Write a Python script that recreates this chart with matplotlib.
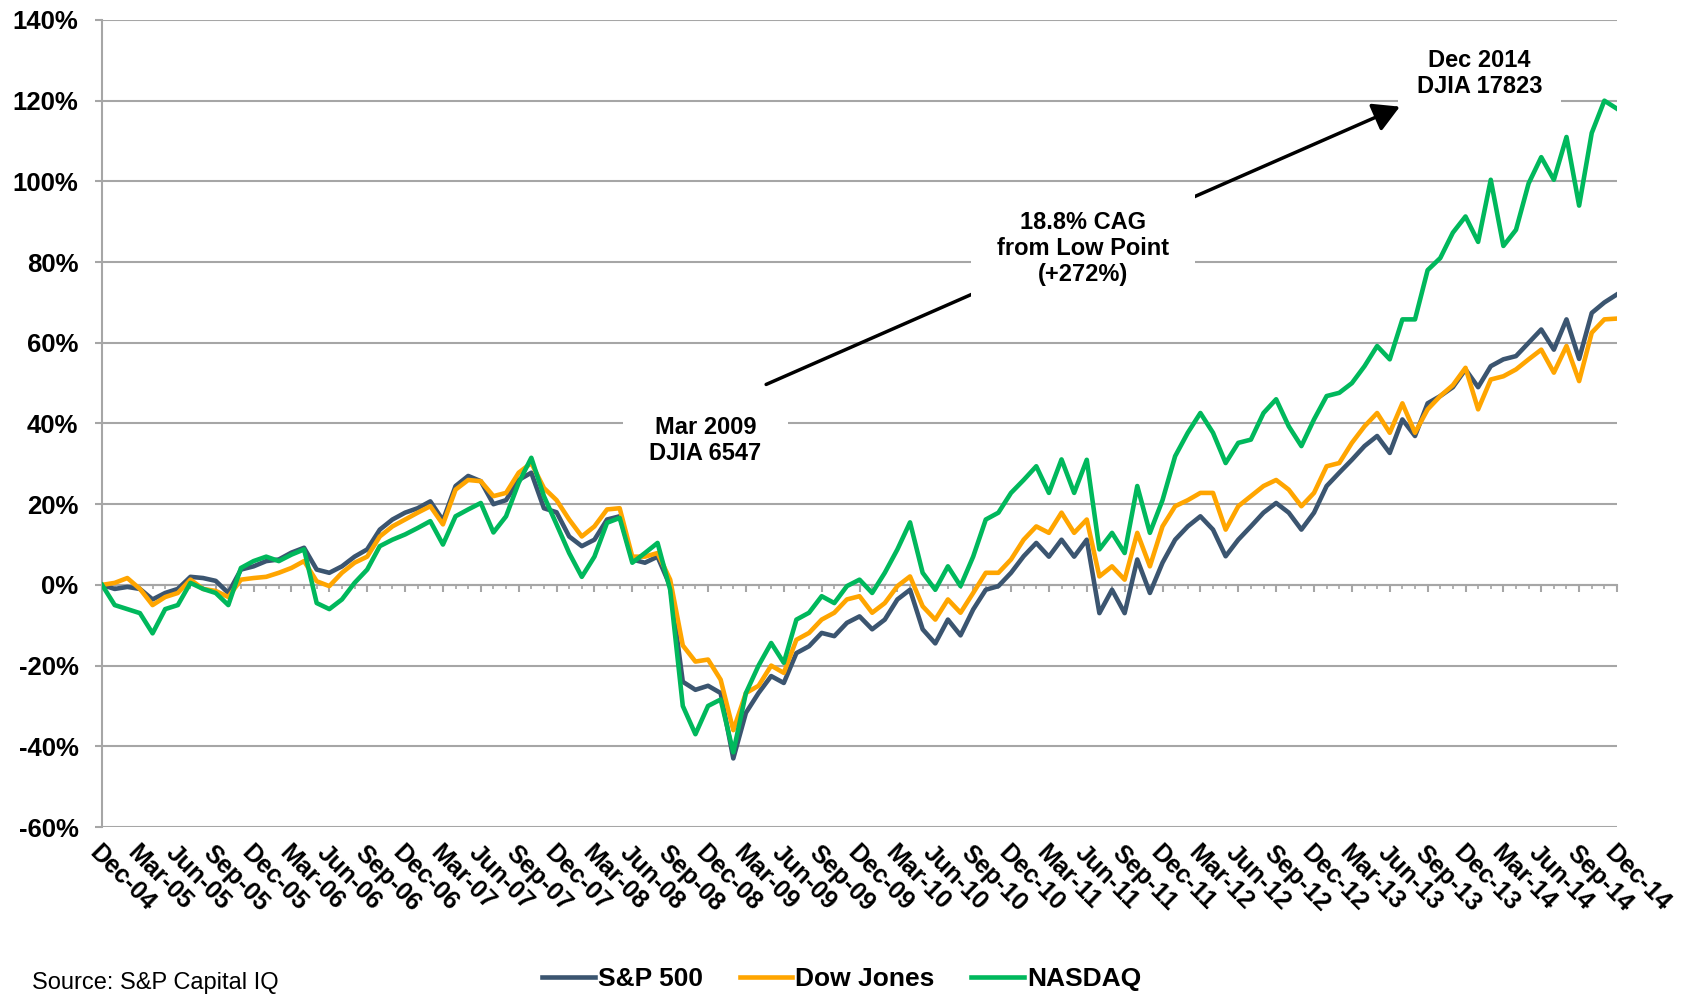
import numpy as np
import matplotlib
matplotlib.use("Agg")
import matplotlib.pyplot as plt

plt.rcParams['font.family'] = ['Liberation Sans', 'DejaVu Sans']

# months since Dec-04 (0 = Dec-04, 120 = Dec-14)
months = np.arange(121)

sp500 = [0, -1, -0.5, -1, -3.6, -2, -1, 2, 1.7, 1, -2, 3.8, 4.6, 5.9, 6.3, 8, 9.2, 3.8, 3, 4.6,
         7, 8.8, 13.7, 16.2, 17.9, 19, 20.7, 16, 24.5, 27, 25.7, 20, 21, 26, 27.8, 19, 18, 12, 9.6, 11.2,
         16.2, 17, 6.3, 5.5, 7, -0.3, -24, -26, -25, -26.8, -43, -31.7, -26.8, -22.6, -24.3, -16.9, -15.2, -11.9, -12.7, -9.4,
         -7.8, -11, -8.6, -3.6, -1.2, -11, -14.5, -8.6, -12.5, -6.1, -1.2, -0.3, 3, 7.1, 10.4, 7, 11.2, 7, 11.2, -7,
         -1.2, -7, 6.3, -2, 5.5, 11.2, 14.5, 17, 13.7, 7.1, 11.2, 14.5, 17.9, 20.3, 17.9, 13.7, 17.9, 24.5, 27.8, 31,
         34.4, 36.9, 32.7, 41, 36.9, 45, 46.8, 49, 53.4, 49, 54.2, 55.9, 56.7, 60, 63.3, 58.3, 65.8, 56, 67.4, 70,
         72]
dow = [0, 0.5, 1.7, -1, -5, -3, -2, 1.3, -1, -1.5, -3, 1.3, 1.7, 2, 3, 4.2, 5.9, 0.9, -0.3, 3,
       5.5, 7, 12, 14.5, 16.2, 17.9, 19.5, 15, 23.6, 26, 25.7, 22, 22.8, 27.8, 30.2, 24, 21, 16.2, 12, 14.5,
       18.7, 19, 7, 7, 7.9, 1.3, -15, -19, -18.5, -23.5, -36, -26.8, -25, -20, -21.8, -13.6, -11.9, -8.6, -6.9, -3.6,
       -2.8, -6.9, -4.5, -0.3, 2.1, -5.3, -8.6, -3.6, -6.9, -2, 3, 3, 6.3, 11.2, 14.5, 12.9, 17.9, 12.9, 16.2, 2.1,
       4.6, 1.3, 12.9, 4.6, 14.5, 19.5, 21, 22.8, 22.8, 13.7, 19.5, 22, 24.5, 26, 23.6, 19.5, 22.8, 29.4, 30.2, 35.2,
       39.3, 42.6, 37.7, 45, 37.7, 43.5, 46.8, 49.5, 53.8, 43.5, 50.9, 51.7, 53.4, 55.9, 58.3, 52.6, 59.2, 50.5, 62.5, 65.8,
       66]
nasdaq = [0, -5, -6, -7, -12, -6, -5, 0.5, -1, -2, -5, 4.2, 5.9, 7, 5.9, 7.5, 8.8, -4.5, -6, -3.6,
          0.5, 3.8, 9.6, 11.2, 12.5, 14.1, 15.8, 10, 17, 18.7, 20.3, 13, 17, 25.3, 31.5, 22, 15, 7.9, 2, 7,
          15.4, 16.6, 5.5, 7.9, 10.4, -1.2, -30, -37, -30, -28.4, -41.5, -26.8, -20, -14.4, -19.3, -8.6, -6.9, -2.8, -4.5, -0.3,
          1.3, -2, 3, 8.8, 15.5, 3, -1.2, 4.6, -0.3, 7, 16.2, 17.9, 22.8, 26, 29.4, 22.8, 31.1, 22.8, 31, 8.8,
          12.9, 7.9, 24.5, 12.9, 21, 31.9, 37.7, 42.6, 37.7, 30.2, 35.2, 36, 42.6, 46, 39.3, 34.4, 41, 46.8, 47.6, 50,
          54.2, 59.2, 55.9, 65.8, 65.8, 78, 81, 87.3, 91.3, 85, 100.4, 84, 88, 99.5, 106, 100.4, 111, 94, 112, 120,
          118]

tick_labels = ['Dec-04', 'Mar-05', 'Jun-05', 'Sep-05', 'Dec-05', 'Mar-06', 'Jun-06', 'Sep-06', 'Dec-06',
               'Mar-07', 'Jun-07', 'Sep-07', 'Dec-07', 'Mar-08', 'Jun-08', 'Sep-08', 'Dec-08', 'Mar-09',
               'Jun-09', 'Sep-09', 'Dec-09', 'Mar-10', 'Jun-10', 'Sep-10', 'Dec-10', 'Mar-11', 'Jun-11',
               'Sep-11', 'Dec-11', 'Mar-12', 'Jun-12', 'Sep-12', 'Dec-12', 'Mar-13', 'Jun-13', 'Sep-13',
               'Dec-13', 'Mar-14', 'Jun-14', 'Sep-14', 'Dec-14']

c_sp = '#3B5570'
c_dow = '#FFA500'
c_nas = '#00B85C'
grey = '#A6A6A6'

fig = plt.figure(figsize=(16.9, 9.94), dpi=100)
ax = fig.add_axes([0.0604, 0.168, 0.8964, 0.8119])

ax.plot(months, sp500, color=c_sp, lw=3.3, label='S&P 500', zorder=3)
ax.plot(months, dow, color=c_dow, lw=3.3, label='Dow Jones', zorder=4)
ax.plot(months, nasdaq, color=c_nas, lw=3.3, label='NASDAQ', zorder=5)

ax.set_xlim(0, 120)
ax.set_ylim(-60, 140)
ax.set_yticks(np.arange(-60, 141, 20))
ax.set_yticklabels([f"{v}%" for v in range(-60, 141, 20)], fontsize=18.5, fontweight='bold')
ax.yaxis.grid(True, color=grey, lw=1.5, zorder=0.5)
ax.set_axisbelow(True)
ax.tick_params(axis='y', length=5, width=1.5, color=grey, pad=12)

ax.set_xticks(np.arange(0, 121, 3))
ax.set_xticklabels(tick_labels, rotation=-45, ha='left', va='top', rotation_mode='anchor',
                   fontsize=18, fontweight='bold')
ax.tick_params(axis='x', length=0, pad=10)

for s in ['top', 'right', 'bottom']:
    ax.spines[s].set_visible(False)
ax.spines['left'].set_color(grey)
ax.spines['left'].set_linewidth(1.5)

# tick marks on the 0% line
zero_ax = ax.secondary_xaxis(0.3)
zero_ax.set_xticks(np.arange(0, 121, 3))
zero_ax.set_xticks(np.arange(0, 121, 1), minor=True)
zero_ax.tick_params(which='major', direction='out', length=5, width=1.5, color=grey, labelbottom=False)
zero_ax.tick_params(which='minor', direction='out', length=3, width=1.2, color=grey)
zero_ax.spines['bottom'].set_color(grey)
zero_ax.spines['bottom'].set_linewidth(1.5)

# annotations
ax.text(109.1, 126.7, 'Dec 2014\nDJIA 17823', ha='center', va='center', fontsize=17,
        fontweight='bold', linespacing=1.15, zorder=1.1,
        bbox=dict(boxstyle='square,pad=0.8', fc='white', ec='none'))
ax.annotate('', xy=(103.0, 118.8), xytext=(52.4, 49.4),
            arrowprops=dict(arrowstyle='-|>,head_length=1.6,head_width=0.9', color='black', lw=2.5),
            zorder=1.2)
ax.text(77.7, 83.4, '18.8% CAG\nfrom Low Point\n(+272%)', ha='center', va='center', fontsize=17,
        fontweight='bold', linespacing=1.15, zorder=1.5,
        bbox=dict(boxstyle='square,pad=1.1', fc='white', ec='none'))
ax.text(47.8, 35.8, 'Mar 2009\nDJIA 6547', ha='center', va='center', fontsize=17,
        fontweight='bold', linespacing=1.15, zorder=1.5,
        bbox=dict(boxstyle='square,pad=1.1', fc='white', ec='none'))

leg = fig.legend(loc='center', bbox_to_anchor=(0.498, 0.0151), ncol=3, frameon=False,
                 prop={'size': 19, 'weight': 'bold'}, handlelength=2.0, handletextpad=0.1,
                 columnspacing=1.4)
for line in leg.get_lines():
    line.set_linewidth(3.3)

fig.text(0.019, 0.011, 'Source: S&P Capital IQ', fontsize=17, va='center', ha='left')

fig.savefig('out.png', dpi=100)
